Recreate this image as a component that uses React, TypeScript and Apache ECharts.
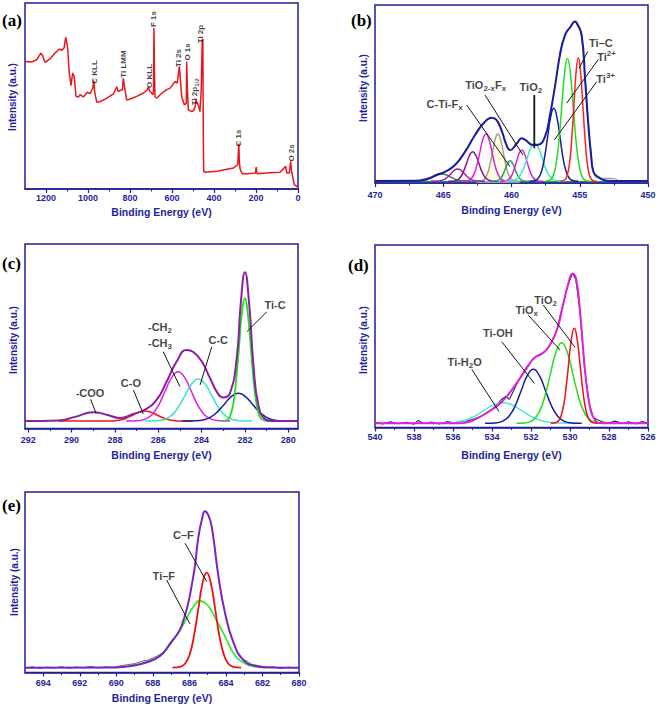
import React, { useEffect, useRef } from 'react';
import * as echarts from 'echarts';

const FONT = '"Liberation Sans", Arial, Helvetica, sans-serif';
const SERIF = '"Liberation Serif", "Times New Roman", serif';
const NAVY = '#1f1f99';
const INK = '#111111';

// ---------- tick values ----------
const aMajor = [0, 200, 400, 600, 800, 1000, 1200];
const aMinor = [100, 300, 500, 700, 900, 1100];
const bMajor = [450, 455, 460, 465, 470];
const bMinor = [452.5, 457.5, 462.5, 467.5];
const cMajor = [280, 282, 284, 286, 288, 290, 292];
const cMinor = [281, 283, 285, 287, 289, 291];
const dMajor = [526, 528, 530, 532, 534, 536, 538, 540];
const dMinor = [527, 529, 531, 533, 535, 537, 539];
const eMajor = [680, 682, 684, 686, 688, 690, 692, 694];
const eMinor = [681, 683, 685, 687, 689, 691, 693];

// ---------- (a) survey ----------
const aSurvey = [[1300,68.3],[1290,68.6],[1268,68.3],[1244,69.5],[1225,73.1],[1216,71.7],[1205,68.1],[1181,69.9],[1157,73.1],[1136,75.3],[1125,74.6],[1114,75.8],[1106,81.7],[1100,78],[1096,74.9],[1090,63.3],[1081,55.6],[1073,62.4],[1066,60.6],[1057,49.8],[1046,49.5],[1038,50.7],[1022,49.5],[1003,52.0],[990,51.3],[977,54.3],[973,58.3],[968,52.0],[958,46.6],[943,46.9],[910,48.9],[879,51.1],[863,55],[856,52.3],[848,53],[836,53.4],[832,59.5],[826,55],[816,47.8],[799,48.4],[768,49.8],[736,51.6],[720,53.0],[713,54.7],[705,52.5],[691,50.7],[688,53.2],[686,86.6],[683,60],[681,49.6],[672,48.9],[648,51.6],[625,53.4],[610,54.1],[586,57.7],[575,57],[567,64],[565,66.1],[561,60],[554,49.6],[541,45.2],[532,46],[530,68.4],[527,55],[522,42.5],[506,41.6],[497,42.3],[490,44],[486,47.8],[475,45.2],[467,41.6],[461,52.5],[456,80.3],[453,80.6],[451,30],[449,9.5],[442,9.0],[386,9.5],[307,11.3],[287,13.1],[282,24.4],[279,14],[275,10.4],[265,8.2],[243,8.2],[203,8.6],[199,11.8],[195,8.2],[148,8.6],[85,9.0],[66,11.3],[59,12.2],[53,8.6],[41,8.6],[35,14.9],[30,9],[27,7.7],[18,2.3],[5,1.4],[0,1.4]];
const aLabels = [[971,62.9,'{n|C KLL}'],[833,67.2,'{n|Ti LMM}'],[709,60.8,'{n|O KLL}'],[686,91.4,'{n|F 1s}'],[567,70.4,'{n|Ti 2s}'],[524,73.7,'{n|O 1s}'],[495,52.2,'{n|Ti 2p}{sub|1/2}'],[462,83.3,'{n|Ti 2p}'],[281,27.4,'{n|C 1s}'],[29,19.4,'{n|O 2s}']];

// ---------- (b) Ti 2p ----------
const bTiC = [[453.78,1],[454.11,1.8],[454.28,4.1],[454.44,10.4],[454.6,23.6],[454.77,43.1],[454.94,62.2],[455.1,70.4],[455.27,62.2],[455.43,43.1],[455.6,23.6],[455.76,10.4],[455.93,4.1],[456.09,1.8],[456.42,1]];
const bTi2 = [[454.22,1],[454.64,1.8],[454.85,4.0],[455.06,10.3],[455.27,23.4],[455.48,42.9],[455.69,61.9],[455.9,70],[456.11,61.9],[456.32,42.9],[456.53,23.4],[456.74,10.3],[456.95,4.0],[457.16,1.8],[457.58,1]];
const bTi3 = [[455.1,1],[455.55,1.45],[455.78,2.8],[456.0,6.5],[456.23,14.3],[456.45,25.9],[456.68,37.2],[456.9,42],[457.13,37.2],[457.35,25.9],[457.58,14.3],[457.8,6.5],[458.03,2.8],[458.25,1.45],[458.7,1]];
const bTiO2 = [[456.1,1],[456.65,1.24],[456.93,1.94],[457.2,3.9],[457.48,7.9],[457.75,13.9],[458.03,19.8],[458.3,22.3],[458.58,19.8],[458.85,13.9],[459.13,7.9],[459.4,3.9],[459.68,1.94],[459.95,1.24],[460.5,1]];
const bP459 = [[457.65,1],[458.05,1.19],[458.25,1.77],[458.45,3.37],[458.65,6.7],[458.85,11.6],[459.05,16.4],[459.25,18.5],[459.45,16.4],[459.65,11.6],[459.85,6.7],[460.05,3.37],[460.25,1.77],[460.45,1.19],[460.85,1]];
const bP460 = [[458.7,1],[459.05,1.13],[459.23,1.5],[459.4,2.55],[459.58,4.74],[459.75,7.98],[459.93,11.1],[460.1,12.5],[460.28,11.1],[460.45,7.98],[460.63,4.74],[460.8,2.55],[460.98,1.5],[461.15,1.13],[461.5,1]];
const bP461 = [[459.4,1],[459.8,1.29],[460.0,2.16],[460.2,4.58],[460.4,9.6],[460.6,17.1],[460.8,24.4],[461.0,27.5],[461.2,24.4],[461.4,17.1],[461.6,9.6],[461.8,4.58],[462.0,2.16],[462.2,1.29],[462.6,1]];
const bP462 = [[460.07,1],[460.52,1.29],[460.75,2.16],[460.97,4.58],[461.2,9.6],[461.42,17.1],[461.65,24.4],[461.87,27.5],[462.1,24.4],[462.32,17.1],[462.55,9.6],[462.77,4.58],[463.0,2.16],[463.22,1.29],[463.67,1]];
const bP463 = [[461.04,1],[461.49,1.18],[461.72,1.73],[461.94,3.25],[462.17,6.4],[462.39,11.1],[462.62,15.6],[462.84,17.6],[463.07,15.6],[463.29,11.1],[463.52,6.4],[463.74,3.25],[463.97,1.73],[464.19,1.18],[464.64,1]];
const bP464 = [[461.94,1],[462.44,1.08],[462.69,1.3],[462.94,1.93],[463.19,3.24],[463.44,5.19],[463.69,7.09],[463.94,7.9],[464.19,7.09],[464.44,5.19],[464.69,3.24],[464.94,1.93],[465.19,1.3],[465.44,1.08],[465.94,1]];
const bP465 = [[462.7,1],[463.3,1.05],[463.6,1.18],[463.9,1.55],[464.2,2.33],[464.5,3.49],[464.8,4.62],[465.1,5.1],[465.4,4.62],[465.7,3.49],[466.0,2.33],[466.3,1.55],[466.6,1.18],[466.9,1.05],[467.5,1]];
const bBase = [[470,0.8],[450,0.8]];
const bRaw = [[456.5,72.5],[456.0,84.5],[455.6,88.5],[455.35,91.3],[455.15,89.8],[454.9,84],[454.6,58],[454.35,33],[454.1,12],[453.9,4],[453.6,2.8],[453,2.6],[452.4,2.4],[452.2,1.1]];
const bEnv = [[470,1.1],[467,1.2],[466.1,2.6],[465.5,4.5],[464.87,6.3],[464.14,10.1],[463.4,17.6],[462.67,27],[462.0,34],[461.45,36.7],[461.1,35.5],[460.7,29],[460.4,22],[460.1,18.5],[459.6,22.3],[459.25,25.1],[459.0,24.2],[458.4,21.3],[458.04,21.5],[457.55,26],[457.18,38.2],[456.8,55],[456.45,71.9],[456.08,83.1],[455.7,87.5],[455.35,90.6],[455.2,89.5],[454.86,83],[454.6,57],[454.37,32.6],[454.17,15.7],[454.0,6.3],[453.5,2.6],[453,1.3],[452,1.1],[450,1.1]];
const bLabels = [[453.45,78.8,'{n|Ti–C}'],[453.03,70.8,'{n|Ti}{sup|2+}'],[453.1,58.2,'{n|Ti}{sup|3+}'],[458.58,53.9,'{n|TiO}{sub|2}'],[461.89,55,'{n|TiO}{sub|2-x}{n|F}{sub|x}'],[464.9,44.5,'{n|C-Ti-F}{sub|x}']];
const bLeaders = [[[454.42,73.8],[455.05,64.4]],[[453.64,69.4],[455.96,44.8]],[[453.76,56.9],[456.86,24.2]],[[461.94,49.4],[459.16,15.7]],[[463.28,43.8],[460.11,9.2]]];
const bLeaderThick = [[[458.33,49.4],[458.33,19.5]]];

// ---------- (c) C 1s ----------
const cTiC = [[280.92,4],[281.19,4.7],[281.33,6.9],[281.46,13.0],[281.6,25.6],[281.73,44.4],[281.87,62.7],[282.0,70.6],[282.14,62.7],[282.27,44.4],[282.41,25.6],[282.54,13.0],[282.68,6.9],[282.81,4.7],[283.08,4]];
const cP282 = [[279.7,4],[280.35,4.17],[280.68,4.66],[281.0,6.04],[281.33,8.9],[281.65,13.2],[281.98,17.3],[282.3,19.1],[282.63,17.3],[282.95,13.2],[283.28,8.9],[283.6,6.04],[283.93,4.66],[284.25,4.17],[284.9,4]];
const cCC = [[281.67,4],[282.29,4.25],[282.6,5.0],[282.91,7.08],[283.22,11.4],[283.53,17.8],[283.84,24.1],[284.15,26.8],[284.46,24.1],[284.77,17.8],[285.08,11.4],[285.39,7.08],[285.7,5.0],[286.01,4.25],[286.63,4]];
const cCH = [[282.68,4],[283.28,4.3],[283.58,5.18],[283.88,7.62],[284.18,12.7],[284.48,20.3],[284.78,27.6],[285.08,30.8],[285.38,27.6],[285.68,20.3],[285.98,12.7],[286.28,7.62],[286.58,5.18],[286.88,4.3],[287.48,4]];
const cCO = [[284.41,4],[284.96,4.06],[285.24,4.24],[285.51,4.74],[285.79,5.79],[286.06,7.34],[286.34,8.85],[286.61,9.5],[286.89,8.85],[287.16,7.34],[287.44,5.79],[287.71,4.74],[287.99,4.24],[288.26,4.06],[288.81,4],[290.6,4]];
const cEnv = [[292.15,4],[290.6,4.3],[289.84,6.3],[289.0,8.8],[288.38,7.5],[287.77,5.7],[287.15,7.9],[286.61,10.2],[286.07,15.6],[285.61,25.5],[285.15,36.3],[284.69,42.6],[284.38,41.5],[283.99,36.3],[283.61,27.3],[283.23,18.6],[283.0,16.8],[282.69,19.2],[282.38,38],[282.19,68],[282.0,84.7],[281.8,67],[281.61,35],[281.38,12.8],[281.07,5.1],[280.69,4],[279.55,4]];
const cLabels = [[289.15,19.4,'{n|-COO}'],[287.26,24.5,'{n|C-O}'],[285.92,54.9,'{n|-CH}{sub|2}'],[285.92,46.2,'{n|-CH}{sub|3}'],[283.23,48,'{n|C-C}'],[280.61,66.9,'{n|Ti-C}']];
const cLeaders = [[[289.12,15.8],[288.87,8.2]],[[287.15,20.9],[286.69,7.9]],[[285.77,41.6],[285.0,22.7]],[[283.53,44.3],[284.07,23.6]],[[280.99,63.3],[281.91,52.5]]];

// ---------- (d) O 1s ----------
const dTiO2 = [[528.58,2.3],[528.88,2.9],[529.03,4.6],[529.18,9.3],[529.33,19.2],[529.48,33.9],[529.63,48.3],[529.78,54.4],[529.93,48.3],[530.08,33.9],[530.23,19.2],[530.38,9.3],[530.53,4.6],[530.68,2.9],[530.98,2.3]];
const dTiOx = [[528.11,2.3],[528.69,2.8],[528.98,4.2],[529.27,8.3],[529.56,16.7],[529.85,29.1],[530.14,41.3],[530.43,46.5],[530.72,41.3],[531.01,29.1],[531.3,16.7],[531.59,8.3],[531.88,4.2],[532.17,2.8],[532.75,2.3]];
const dTiOH = [[529.4,2.3],[530.02,2.6],[530.33,3.6],[530.64,6.3],[530.95,11.9],[531.26,20.3],[531.57,28.4],[531.88,31.9],[532.19,28.4],[532.5,20.3],[532.81,11.9],[533.12,6.3],[533.43,3.6],[533.74,2.6],[534.36,2.3]];
const dH2O = [[529.53,2.3],[530.51,2.4],[531.0,2.8],[531.49,3.8],[531.98,6.0],[532.47,9.2],[532.96,12.3],[533.45,13.6],[533.94,12.3],[534.43,9.2],[534.92,6.0],[535.41,3.8],[535.9,2.8],[536.39,2.4],[537.37,2.3]];
const dRaw = [[540,2.8],[539.6,2.0],[539.2,3.1],[538.8,2.1],[538.4,2.9],[538.0,1.8],[537.8,3.8],[537.5,2.2],[537.1,3.0],[536.7,2.0],[536.3,3.2],[535.9,2.4],[535.6,3.6],[535.3,3.6],[535.0,4.4],[534.6,6.0],[534.2,8.3],[533.8,11.8],[533.5,15.5],[533.3,17],[533.1,15.5],[532.7,24.5],[532.3,31],[531.9,37.5],[531.6,39.8],[531.3,41.5],[531.0,45.5],[530.7,52.5],[530.4,66],[530.1,78],[529.87,84.5],[529.7,81],[529.5,64.5],[529.25,32],[529.0,12.5],[528.8,5.5],[528.6,4.2],[528.3,3.0],[528.0,2.4],[527.7,3.5],[527.3,2.2],[527.0,3.1],[526.6,2.0],[526.3,3.3],[526,2.4]];
const dEnv = [[540,2.3],[536,2.3],[535.38,2.6],[534.87,4.4],[534.19,8.6],[533.5,14],[532.82,23.1],[532.14,34],[531.79,38.5],[531.45,40.3],[531.11,44],[530.68,53.2],[530.34,67.8],[530.09,78.7],[529.87,84.2],[529.69,81.5],[529.49,64.2],[529.23,31.4],[528.98,11.3],[528.72,4],[528.38,2.4],[526,2.3]];
const dLabels = [[531.25,70,'{n|TiO}{sub|2}'],[532.22,64.3,'{n|TiO}{sub|x}'],[533.7,51.7,'{n|Ti-OH}'],[535.4,36,'{n|Ti-H}{sub|2}{n|O}']];
const dLeaders = [[[531.37,67.1],[529.74,43.9]],[[532.14,61.6],[530.51,42.5]],[[533.5,47],[531.83,24.2]],[[535.04,31.9],[533.64,8.7]]];

// ---------- (e) F 1s ----------
const eCF = [[683.17,2.7],[683.64,3.3],[683.88,5.0],[684.11,9.8],[684.35,19.8],[684.58,34.6],[684.82,49.1],[685.05,55.3],[685.29,49.1],[685.52,34.6],[685.76,19.8],[685.99,9.8],[686.23,5.0],[686.46,3.3],[686.93,2.7]];
const eTiF = [[689.3,3.5],[688.34,5.6],[687.61,9],[687.06,15.5],[686.42,25],[686.0,33],[685.7,37.5],[685.47,39.6],[685.2,39],[684.9,36],[684.42,27],[684.05,20],[683.6,11],[683.05,5.5],[682.5,3.4],[681.8,2.8]];
const eRawL = [[695,2.4],[694.6,3.2],[694.2,2.2],[693.8,3.0],[693.4,2.5],[693.0,3.3],[692.6,2.3],[692.2,3.0],[691.8,2.6],[691.4,3.4],[691.0,2.5],[690.6,3.2],[690.2,2.9],[689.8,3.7],[689.4,4.3],[689.0,4.9],[688.6,6.2],[688.3,6.8],[688.0,8.0],[687.7,9.5],[687.4,11]];
const eRawR = [[683.0,7.2],[682.6,4.6],[682.2,3.8],[681.8,3.0],[681.4,3.2],[681.0,2.2],[680.6,3.0],[680.2,2.6],[680,2.8]];
const eEnv = [[695,2.7],[690,2.8],[689.25,3.5],[688.34,5.7],[687.61,9.3],[687.06,16],[686.42,26],[685.79,53],[685.51,75],[685.3,85.5],[685.15,89.3],[684.98,87.5],[684.78,81],[684.42,54],[684.05,33],[683.6,17],[683.05,7],[682.32,3.5],[681.5,2.8],[680,2.7]];
const eLabels = [[686.33,76,'{n|C–F}'],[687.4,53.3,'{n|Ti–F}']];
const eLeaders = [[[686.24,71.6],[685.05,50.3]],[[687.24,51.2],[685.97,26.9]]];

const panels = [
  { grid: { left: 25, top: 3, width: 273, height: 186 }, min: 0, max: 1300, major: aMajor, minor: aMinor, margin: 4 },
  { grid: { left: 375, top: 5, width: 273, height: 178 }, min: 450, max: 470, major: bMajor, minor: bMinor, margin: 7 },
  { grid: { left: 25, top: 244, width: 273, height: 184.5 }, min: 279.55, max: 292.15, major: cMajor, minor: cMinor, margin: 6.5 },
  { grid: { left: 375, top: 245, width: 273, height: 182.5 }, min: 526, max: 540, major: dMajor, minor: dMinor, margin: 5 },
  { grid: { left: 25, top: 492, width: 274, height: 180.5 }, min: 680, max: 695, major: eMajor, minor: eMinor, margin: 6 },
];

function rich(fs: number) {
  const s = Math.round(fs * 0.7);
  return {
    n: { fontFamily: FONT, fontWeight: 'bold', fontSize: fs, color: INK, lineHeight: fs + 4 },
    sub: { fontFamily: FONT, fontWeight: 'bold', fontSize: s, color: INK, lineHeight: s + 1, verticalAlign: 'bottom' },
    sup: { fontFamily: FONT, fontWeight: 'bold', fontSize: s, color: INK, lineHeight: s + 1, verticalAlign: 'top' },
  };
}

function curve(p: number, data: number[][], color: string, width: number, smooth: boolean | number, z = 2, extra: any = {}) {
  return {
    type: 'line', xAxisIndex: p * 2, yAxisIndex: p, data, symbol: 'none', smooth,
    lineStyle: { color, width }, silent: true, z, animation: false, ...extra,
  };
}

function labelSeries(p: number, items: any[], fs: number, rotate = 0) {
  return {
    type: 'scatter', xAxisIndex: p * 2, yAxisIndex: p, symbolSize: 0, silent: true, z: 10,
    itemStyle: { color: 'transparent' },
    data: items.map(([x, y, t]) => ({ value: [x, y], label: { formatter: t } })),
    label: { show: true, position: [0, 0], align: 'center', verticalAlign: 'middle', rotate, color: INK, rich: rich(fs) },
  };
}

function leaderSeries(p: number, segs: number[][][], width = 1) {
  return segs.map((seg) => curve(p, seg, '#151515', width, false, 9));
}

export default function App() {
  const ref = useRef<HTMLDivElement>(null);
  useEffect(() => {
    const chart = echarts.init(ref.current!, null, { renderer: 'svg' });
    const xAxis: any[] = [];
    panels.forEach((p, i) => {
      xAxis.push({
        type: 'value', gridIndex: i, position: 'bottom', min: p.min, max: p.max, inverse: true,
        splitLine: { show: false },
        axisLine: { show: true, onZero: false, lineStyle: { color: NAVY, width: 1.5 } },
        axisTick: { show: true, inside: false, length: 4, lineStyle: { color: NAVY, width: 1.2 }, customValues: p.major },
        axisLabel: { show: true, customValues: p.major, formatter: (v: number) => String(v), color: NAVY, fontFamily: FONT, fontWeight: 'bold', fontSize: 9, margin: p.margin },
      });
      xAxis.push({
        type: 'value', gridIndex: i, position: 'bottom', min: p.min, max: p.max, inverse: true,
        splitLine: { show: false },
        axisLine: { show: false, onZero: false },
        axisTick: { show: true, inside: false, length: 2.5, lineStyle: { color: NAVY, width: 1 }, customValues: p.minor },
        axisLabel: { show: false },
      });
    });
    const yAxis = panels.map((p, i) => ({ type: 'value', gridIndex: i, min: 0, max: 100, show: false }));

    const series: any[] = [
      // (a)
      curve(0, aSurvey, '#e8161b', 1.5, false),
      labelSeries(0, aLabels, 8, 90),
      // (b)
      curve(1, bBase, '#2e8b57', 1.2, false, 1),
      curve(1, bP461, '#a3a38c', 1.5, true, 2, { areaStyle: { color: 'rgba(250,250,205,0.7)' } }),
      curve(1, bP465, '#2f8a5a', 1.5, true),
      curve(1, bP464, '#a321a8', 1.5, true),
      curve(1, bP463, '#8a128e', 1.5, true),
      curve(1, bP462, '#e020d8', 1.5, true),
      curve(1, bP460, '#2aa062', 1.5, true),
      curve(1, bP459, '#e020d0', 1.5, true),
      curve(1, bTiO2, '#3de6c0', 1.5, true),
      curve(1, bTi3, '#1c1ca0', 1.5, true),
      curve(1, bTi2, '#22dd22', 1.5, true),
      curve(1, bTiC, '#ff1f1f', 1.5, true),
      curve(1, bRaw, '#9a9a9a', 1.2, true, 3),
      curve(1, bEnv, '#1a1a9c', 2, true, 4),
      ...leaderSeries(1, bLeaders),
      ...leaderSeries(1, bLeaderThick, 1.8),
      labelSeries(1, bLabels, 11),
      // (c)
      curve(2, cCO, '#e81a1a', 1.5, true),
      curve(2, cCH, '#e020e0', 1.5, true),
      curve(2, cCC, '#3de6c0', 1.5, true),
      curve(2, cP282, '#1c1ca0', 1.5, true),
      curve(2, cTiC, '#22dd22', 1.8, true),
      curve(2, cEnv, '#8a1fa0', 2, true, 4),
      ...leaderSeries(2, cLeaders),
      labelSeries(2, cLabels, 11),
      // (d)
      curve(3, dRaw, '#2a2a55', 1.1, false, 2),
      curve(3, dH2O, '#44eecc', 1.5, true),
      curve(3, dTiOH, '#1a1aa0', 1.5, true),
      curve(3, dTiOx, '#22dd22', 1.5, true),
      curve(3, dTiO2, '#ee1111', 1.5, true),
      curve(3, dEnv, '#e020e0', 2, true, 4),
      ...leaderSeries(3, dLeaders),
      labelSeries(3, dLabels, 11),
      // (e)
      curve(4, eRawL, '#666666', 1, false, 3),
      curve(4, eRawR, '#666666', 1, false, 3),
      curve(4, eTiF, '#33ee33', 1.8, true),
      curve(4, eCF, '#ee1111', 1.8, true),
      curve(4, eEnv, '#7a22c8', 2, true, 4),
      ...leaderSeries(4, eLeaders),
      labelSeries(4, eLabels, 11),
    ];

    const txt = (x: number, y: number, text: string, font: any, rot = 0, align = 'center') => ({
      type: 'text', x, y, rotation: rot, silent: true,
      style: { text, align, verticalAlign: 'middle', ...font },
    });
    const nameFont = { fontFamily: FONT, fontWeight: 'bold', fontSize: 10.5, fill: NAVY };
    const yFont = { fontFamily: FONT, fontWeight: 'bold', fontSize: 10, fill: NAVY };
    const letterFont = { fontFamily: SERIF, fontWeight: 'bold', fontSize: 17, fill: '#000' };

    const graphic = [
      txt(161.5, 212, 'Binding Energy (eV)', nameFont),
      txt(511.5, 210, 'Binding Energy (eV)', nameFont),
      txt(161.5, 455, 'Binding Energy (eV)', nameFont),
      txt(511.5, 455, 'Binding Energy (eV)', nameFont),
      txt(162, 698, 'Binding Energy (eV)', nameFont),
      txt(12, 97, 'Intensity (a.u.)', yFont, Math.PI / 2),
      txt(363, 88, 'Intensity (a.u.)', yFont, Math.PI / 2),
      txt(13, 340, 'Intensity (a.u.)', yFont, Math.PI / 2),
      txt(363, 340, 'Intensity (a.u.)', yFont, Math.PI / 2),
      txt(14, 582, 'Intensity (a.u.)', yFont, Math.PI / 2),
      txt(2, 20, '(a)', letterFont, 0, 'left'),
      txt(351, 20, '(b)', letterFont, 0, 'left'),
      txt(2, 263, '(c)', letterFont, 0, 'left'),
      txt(348, 265, '(d)', letterFont, 0, 'left'),
      txt(2, 505, '(e)', letterFont, 0, 'left'),
    ];

    chart.setOption({
      animation: false,
      backgroundColor: '#ffffff',
      grid: panels.map((p) => ({ ...p.grid, show: true, borderColor: NAVY, borderWidth: 1.5, backgroundColor: 'transparent', containLabel: false })),
      xAxis,
      yAxis,
      series,
      graphic,
    });
    return () => chart.dispose();
  }, []);
  return <div ref={ref} style={{ position: 'fixed', left: 0, top: 0, width: 661, height: 709, background: '#fff' }} />;
}
